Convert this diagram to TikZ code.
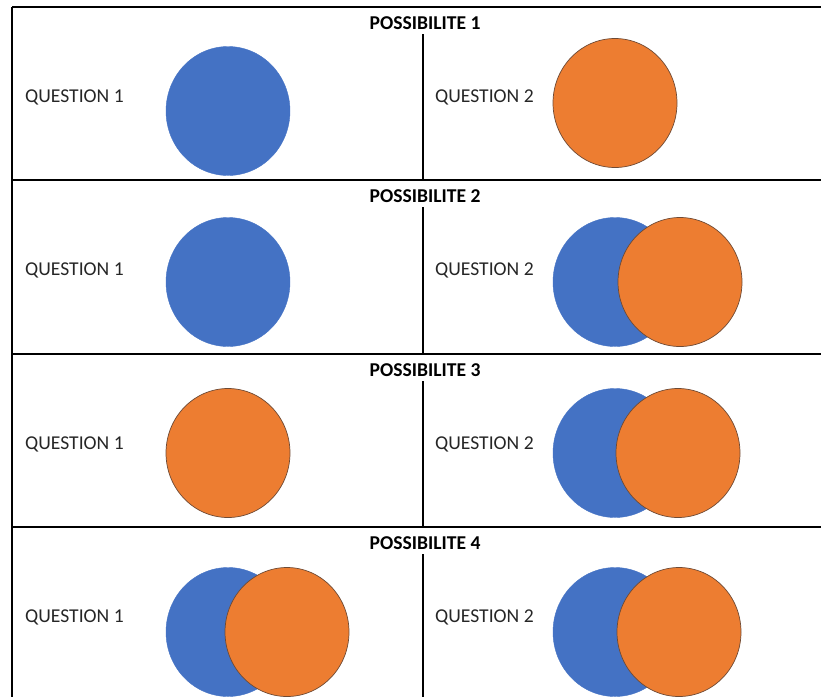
\documentclass[tikz,border=0pt]{standalone}
\usepackage{fontspec}
\setmainfont{Carlito}
\usetikzlibrary{shapes.geometric}
\definecolor{ablue}{HTML}{4472C4}
\definecolor{aorange}{HTML}{ED7D31}
\definecolor{aedge}{HTML}{6E4A35}
\tikzset{
  sepline/.style={draw=black, line width=2pt},
  vline/.style={draw=black, line width=1.1pt},
  bluedisc/.style={ellipse, fill=ablue, draw=ablue, line width=0.4pt, minimum width=124pt, minimum height=129pt, inner sep=0pt},
  orangedisc/.style={ellipse, fill=aorange, draw=aedge, line width=0.7pt, minimum width=124pt, minimum height=129pt, inner sep=0pt},
  qlabel/.style={anchor=base west, inner sep=0pt, font=\fontsize{19.6}{22}\selectfont, text=black!85},
  title/.style={anchor=base, inner sep=0pt, font=\fontsize{19.6}{22}\selectfont\bfseries}
}
\begin{document}
\begin{tikzpicture}[x=1pt, y=-1pt]
\useasboundingbox (0,0) rectangle (821,697);
% frame
\coordinate (tl) at (12,7);
\coordinate (bl) at (12,697);
\draw[vline, line width=1.4pt] (tl) -- (bl);
\foreach \i/\y in {0/7,1/180,2/354,3/527}{
  \coordinate (sL\i) at (12,\y);
  \coordinate (sR\i) at (821,\y);
  \draw[sepline] (sL\i) -- (sR\i);
}
% titles and dividers
\foreach \i/\y/\b in {1/7/180,2/180/354,3/354/527,4/527/697}{
  \node[title] (t\i) at (425,\y+22) {POSSIBILITE \i};
  \coordinate (dT\i) at (423,\y+27);
  \coordinate (dB\i) at (423,\b);
  \draw[vline] (dT\i) -- (dB\i);
}
% labels
\foreach \i/\y in {1/102,2/275,3/449,4/622}{
  \node[qlabel] (qa\i) at (25,\y) {QUESTION 1};
  \node[qlabel] (qb\i) at (435,\y) {QUESTION 2};
}
% row 1
\node[bluedisc] (b1l) at (228,111) {};
\node[orangedisc] (o1r) at (615,103) {};
% row 2
\node[bluedisc] (b2l) at (228,282) {};
\node[bluedisc] (b2r) at (615,282) {};
\node[orangedisc] (o2r) at (680,282) {};
% row 3
\node[orangedisc] (o3l) at (228,453) {};
\node[bluedisc] (b3r) at (615,453) {};
\node[orangedisc] (o3r) at (678,453) {};
% row 4
\node[bluedisc] (b4l) at (228,632) {};
\node[orangedisc] (o4l) at (287,632) {};
\node[bluedisc] (b4r) at (615,632) {};
\node[orangedisc] (o4r) at (679,632) {};
\end{tikzpicture}
\end{document}
